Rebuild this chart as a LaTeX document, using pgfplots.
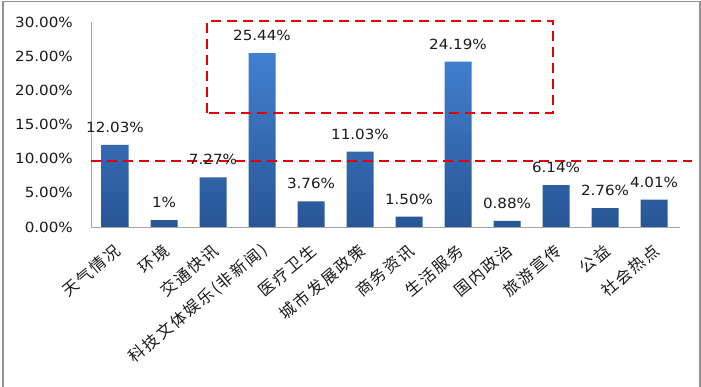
\documentclass[border=0pt]{standalone}
\usepackage{fontspec}
\setmainfont{DejaVu Sans}[FakeStretch=1.08]
\newfontfamily\cjk{Noto Sans CJK SC}[LetterSpace=12]
\usepackage{pgfplots}
\pgfplotsset{compat=1.18}
\definecolor{bartop}{RGB}{66,128,208}
\definecolor{barbot}{RGB}{40,86,150}
\definecolor{dred}{RGB}{232,0,0}
\definecolor{txt}{RGB}{25,25,25}
\begin{document}
\begin{tikzpicture}[x=1pt,y=1pt]
\useasboundingbox (0,0) rectangle (701,387);
\draw[gray!85, line width=1.5pt] (3,-2) -- (3,385.5) -- (700,385.5) -- (700,-2);
\begin{axis}[
  at={(91pt,160pt)}, anchor=south west,
  scale only axis, width=589pt, height=205pt,
  xmin=-0.49, xmax=11.53, ymin=0, ymax=30,
  axis x line*=bottom, axis y line*=left,
  axis line style={draw=gray!70, line width=0.8pt, -},
  major tick length=0pt,
  ytick={0,5,10,15,20,25,30},
  yticklabels={0.00\%,5.00\%,10.00\%,15.00\%,20.00\%,25.00\%,30.00\%},
  yticklabel style={font=\fontsize{14}{16}\selectfont, inner sep=0pt, xshift=-18pt, text=txt},
  xtick={0,1,2,3,4,5,6,7,8,9,10,11},
  xticklabels={天气情况,环境,交通快讯,科技文体娱乐(非新闻),医疗卫生,城市发展政策,商务资讯,生活服务,国内政治,旅游宣传,公益,社会热点},
  xticklabel style={font=\cjk\fontsize{16}{18}\selectfont, text=txt, inner sep=0pt, xshift=3pt, yshift=-21pt, rotate=40, anchor=east},
  clip=false,
  ybar, bar width=27pt,
  nodes near coords, point meta=explicit symbolic,
  every node near coord/.append style={font=\fontsize{14}{16}\selectfont, text=txt, inner sep=0pt, anchor=south, yshift=12pt},
]
\addplot[draw=none, top color=bartop, bottom color=barbot] coordinates {
  (0,12.03) [12.03\%]
  (1,1.00) [1\%]
  (2,7.27) [7.27\%]
  (3,25.44) [25.44\%]
  (4,3.76) [3.76\%]
  (5,11.03) [11.03\%]
  (6,1.50) [1.50\%]
  (7,24.19) [24.19\%]
  (8,0.88) [0.88\%]
  (9,6.14) [6.14\%]
  (10,2.76) [2.76\%]
  (11,4.01) [4.01\%]
};
\draw[dred, line width=2.5pt, dash pattern=on 10pt off 6pt] (axis cs:-0.49,9.66) -- (axis cs:11.78,9.66);
\draw[dred, line width=2.5pt, dash pattern=on 10pt off 6pt] (axis cs:1.88,16.68) rectangle (axis cs:8.94,30.15);
\end{axis}
\end{tikzpicture}
\end{document}
